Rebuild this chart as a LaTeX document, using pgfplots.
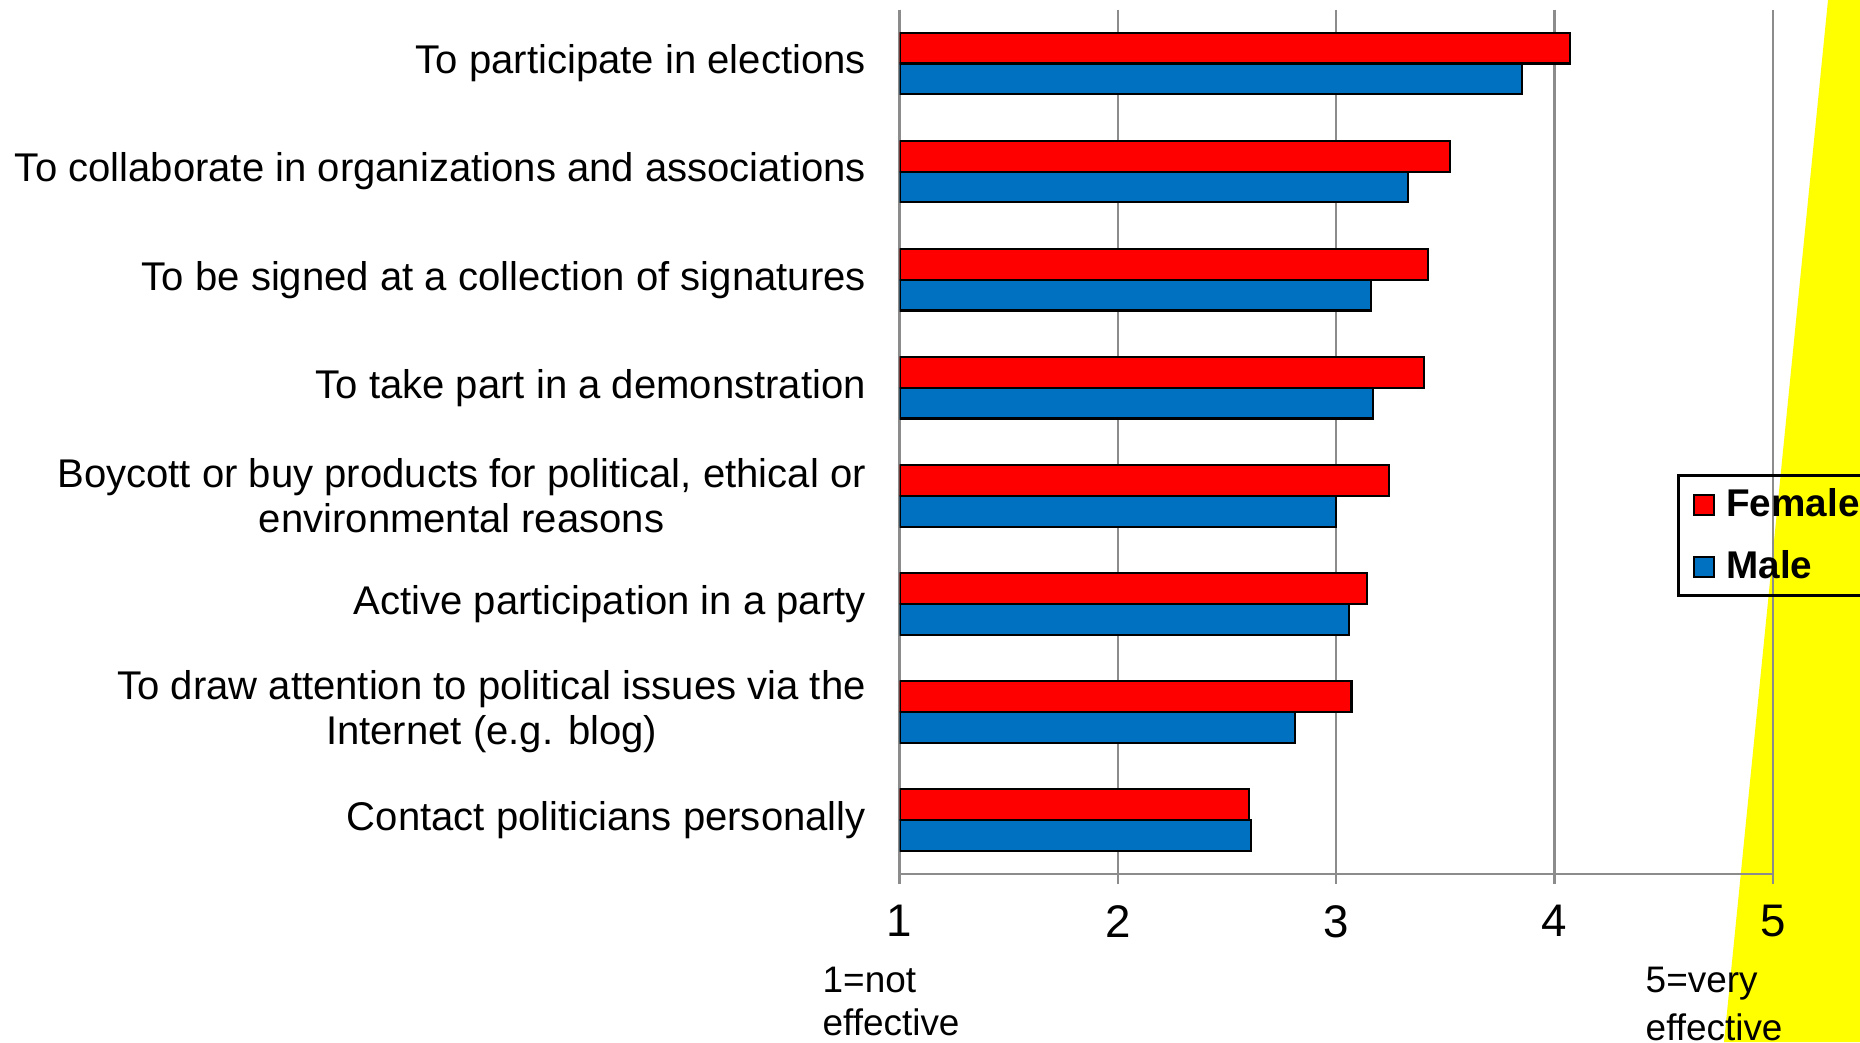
\documentclass[border=0pt]{standalone}
\usepackage{fontspec}
\setmainfont{Liberation Sans}
\usepackage{pgfplots}
\pgfplotsset{compat=1.18}
\definecolor{fred}{HTML}{FF0000}
\definecolor{mblue}{HTML}{0070C0}
\definecolor{gridgray}{HTML}{8C8C8C}
\definecolor{yel}{HTML}{FFFF00}
\begin{document}
\begin{tikzpicture}[x=1cm,y=1cm]
\fill[yel] (18.28,10.42) -- (18.6,10.42) -- (18.6,0) -- (17.24,0) -- cycle;
\begin{axis}[
  at={(8.995cm,1.68cm)}, anchor=south west,
  scale only axis, width=8.735cm, height=8.645cm,
  xbar, bar width=0.285,
  xmin=1, xmax=5, ymin=-0.5, ymax=7.5, y dir=reverse,
  xtick={1,2,3,4,5}, ytick={0,...,7},
  axis lines*=left,
  axis line style={gridgray, line width=0.7pt},
  xmajorgrids, grid style={gridgray, line width=0.7pt},
  tick align=outside,
  x tick style={gridgray, line width=0.7pt},
  xtick style={/pgfplots/major tick length=0.1cm},
  ytick style={draw=none},
  /pgf/number format/assume math mode=true,
  xticklabel style={font=\fontsize{13}{15}\selectfont, yshift=-0.04cm},
  yticklabel style={font=\fontsize{11.4}{12.8}\selectfont, align=center, inner sep=0pt, xshift=-0.18cm},
  yticklabels={To participate in elections,
    To collaborate in organizations and associations,
    To be signed at a collection of signatures,
    To take part in a demonstration,
    {Boycott or buy products for political, ethical or\\environmental reasons},
    Active participation in a party,
    {To draw attention to political issues via the\\Internet (e.g. blog)},
    Contact politicians personally},
  legend style={at={(0.8897,0.4627)}, anchor=north west, draw=black, line width=0.9pt,
    fill=none, font=\bfseries\fontsize{11}{13}\selectfont,
    inner xsep=0.15cm, inner ysep=0.11cm, row sep=0.26cm, column sep=0.11cm,
    nodes={inner sep=0pt, text height=0.3cm, text depth=0.06cm}},
  legend cell align=left,
  legend image code/.code={\draw[#1, draw=black, line width=0.6pt] (0cm,-0.1cm) rectangle (0.2cm,0.1cm);},
]
\addplot[fill=fred, draw=black, line width=0.6pt, bar shift=-0.1425] coordinates {
  (4.07,0) (3.52,1) (3.42,2) (3.40,3) (3.24,4) (3.14,5) (3.07,6) (2.60,7)};
\addplot[fill=mblue, draw=black, line width=0.6pt, bar shift=0.1425] coordinates {
  (3.85,0) (3.33,1) (3.16,2) (3.17,3) (3.00,4) (3.06,5) (2.81,6) (2.61,7)};
\legend{Female, Male}
\end{axis}
\node[anchor=west, inner sep=0pt, font=\fontsize{10.5}{12}\selectfont] at (8.22,0.62) {1=not};
\node[anchor=west, inner sep=0pt, font=\fontsize{10.5}{12}\selectfont] at (8.22,0.20) {effective};
\node[anchor=west, inner sep=0pt, font=\fontsize{10.5}{12}\selectfont] at (16.45,0.58) {5=very};
\node[anchor=west, inner sep=0pt, font=\fontsize{10.5}{12}\selectfont] at (16.45,0.15) {effective};
\pgfresetboundingbox
\path (0,0) rectangle (18.6,10.42);
\end{tikzpicture}
\end{document}
